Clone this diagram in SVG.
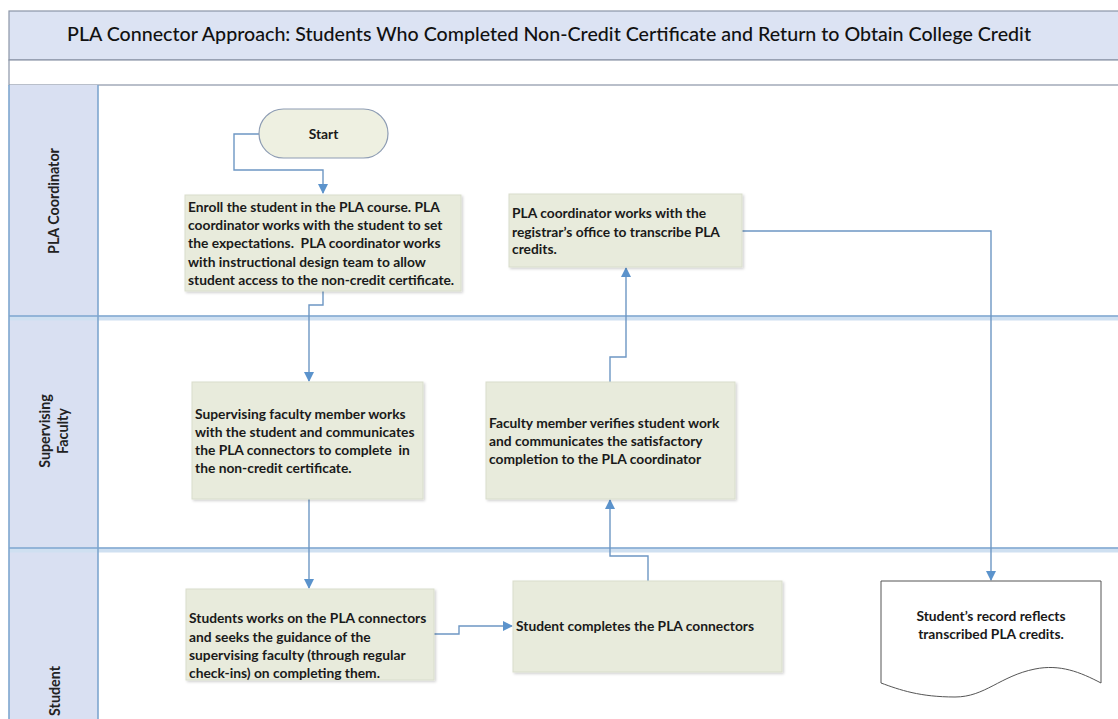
<svg xmlns="http://www.w3.org/2000/svg" width="1118" height="719" viewBox="0 0 1118 719">
  <defs>
    <style>
      .title { font-family: Lato, "Liberation Sans", sans-serif; font-size: 20px; font-weight: 500; fill: #111; }
      .lane-label { font-family: Lato, "Liberation Sans", sans-serif; font-size: 14.3px; font-weight: bold; fill: #222; }
      .t { font-family: Lato, "Liberation Sans", sans-serif; font-size: 13.8px; font-weight: bold; fill: #1a1a1a; white-space: pre; }
      .box { fill: #e8ebdc; stroke: #d9ddcc; stroke-width: 1; filter: url(#shadow); }
      .term { fill: #eef0e1; stroke: #8d9cb3; stroke-width: 1.2; }
      .doc { fill: #ffffff; stroke: #555; stroke-width: 1; }
      .lane-line { stroke: #7ea6cf; stroke-width: 1.6; fill: none; }
      .lane-glow { stroke: #cfe0f1; stroke-width: 5; fill: none; }
      .conn { stroke: #6d97c4; stroke-width: 1.4; fill: none; marker-end: url(#arrow); }
    </style>
    <marker id="arrow" viewBox="0 0 10 10" refX="9" refY="5" markerWidth="10" markerHeight="10" markerUnits="userSpaceOnUse" orient="auto">
      <path d="M0,0 L10,5 L0,10 Z" fill="#5b93cc"/>
    </marker>
    <filter id="shadow" x="-5%" y="-5%" width="112%" height="115%">
      <feDropShadow dx="1.5" dy="1.5" stdDeviation="1.2" flood-color="#000" flood-opacity="0.18"/>
    </filter>
  </defs>

  <rect x="0" y="0" width="1118" height="719" fill="#ffffff"/>

  <!-- title band and spacer -->
  <g id="title-band">
    <rect x="9" y="11" width="1120" height="49" fill="#dce3f3" stroke="#8b95a7" stroke-width="1.2"/>
    <rect x="9" y="60" width="1120" height="25" fill="#ffffff" stroke="#8b95a7" stroke-width="1.2"/>
    <text class="title" x="549" y="41" text-anchor="middle" textLength="964" lengthAdjust="spacingAndGlyphs">PLA Connector Approach: Students Who Completed Non-Credit Certificate and Return to Obtain College Credit</text>
  </g>

  <!-- swimlanes -->
  <g id="lanes">
    <rect x="9" y="85" width="89" height="640" fill="#d9e0f2"/>
    <line class="lane-glow" x1="9" y1="318" x2="1118" y2="318"/>
    <line class="lane-glow" x1="9" y1="550" x2="1118" y2="550"/>
    <line class="lane-line" x1="9" y1="316" x2="1118" y2="316"/>
    <line class="lane-line" x1="9" y1="548" x2="1118" y2="548"/>
    <line class="lane-line" x1="98" y1="85" x2="98" y2="719"/>
    <line class="lane-line" x1="9" y1="85" x2="9" y2="719"/>
    <text class="lane-label" transform="translate(59,201) rotate(-90)" text-anchor="middle">PLA Coordinator</text>
    <text class="lane-label" transform="translate(50,431) rotate(-90)" text-anchor="middle">Supervising</text>
    <text class="lane-label" transform="translate(68,431) rotate(-90)" text-anchor="middle">Faculty</text>
    <text class="lane-label" transform="translate(60,691) rotate(-90)" text-anchor="middle">Student</text>
  </g>

  <!-- connectors -->
  <g id="connectors">
    <path class="conn" d="M259,134 H234 V170 H323 V193"/>
    <path class="conn" d="M323,291 V305 H309 V381"/>
    <path class="conn" d="M309,499 V588"/>
    <path class="conn" d="M434,634 H459 V626 H512"/>
    <path class="conn" d="M648,581 V556 H610 V500"/>
    <path class="conn" d="M610,382 V357 H626 V268"/>
    <path class="conn" d="M742,231 H991 V580"/>
  </g>

  <g id="start">
    <rect class="term" x="259" y="109" width="129" height="49" rx="24.5" ry="24.5"/>
    <text class="t" x="323.5" y="139" text-anchor="middle">Start</text>
  </g>

  <g id="enroll">
    <rect class="box" x="185" y="195" width="276" height="96"/>
    <text class="t" x="188" y="212">Enroll the student in the PLA course. PLA</text>
    <text class="t" x="188" y="230">coordinator works with the student to set</text>
    <text class="t" x="188" y="248">the expectations.  PLA coordinator works</text>
    <text class="t" x="188" y="267">with instructional design team to allow</text>
    <text class="t" x="188" y="285">student access to the non-credit certificate.</text>
  </g>

  <g id="transcribe">
    <rect class="box" x="509" y="194" width="233" height="73"/>
    <text class="t" x="512" y="218">PLA coordinator works with the</text>
    <text class="t" x="512" y="237">registrar’s office to transcribe PLA</text>
    <text class="t" x="512" y="254">credits.</text>
  </g>

  <g id="supervise">
    <rect class="box" x="192" y="382" width="231" height="117"/>
    <text class="t" x="195" y="419">Supervising faculty member works</text>
    <text class="t" x="195" y="437">with the student and communicates</text>
    <text class="t" x="195" y="455">the PLA connectors to complete  in</text>
    <text class="t" x="195" y="473">the non-credit certificate.</text>
  </g>

  <g id="verify">
    <rect class="box" x="486" y="382" width="249" height="117"/>
    <text class="t" x="489" y="428">Faculty member verifies student work</text>
    <text class="t" x="489" y="446">and communicates the satisfactory</text>
    <text class="t" x="489" y="464">completion to the PLA coordinator</text>
  </g>

  <g id="work">
    <rect class="box" x="186" y="589" width="248" height="91"/>
    <text class="t" x="189" y="623">Students works on the PLA connectors</text>
    <text class="t" x="189" y="642">and seeks the guidance of the</text>
    <text class="t" x="189" y="660">supervising faculty (through regular</text>
    <text class="t" x="189" y="678">check-ins) on completing them.</text>
  </g>

  <g id="complete">
    <rect class="box" x="513" y="581" width="269" height="91"/>
    <text class="t" x="516" y="631">Student completes the PLA connectors</text>
  </g>

  <g id="record">
    <path class="doc" d="M881,581 H1101 V683 C1080,672 1060,664 1035,669 C1000,676 985,697 955,697 C920,697 900,690 881,683 Z"/>
    <text class="t" x="991" y="621" text-anchor="middle">Student’s record reflects</text>
    <text class="t" x="991" y="639" text-anchor="middle">transcribed PLA credits.</text>
  </g>
</svg>
